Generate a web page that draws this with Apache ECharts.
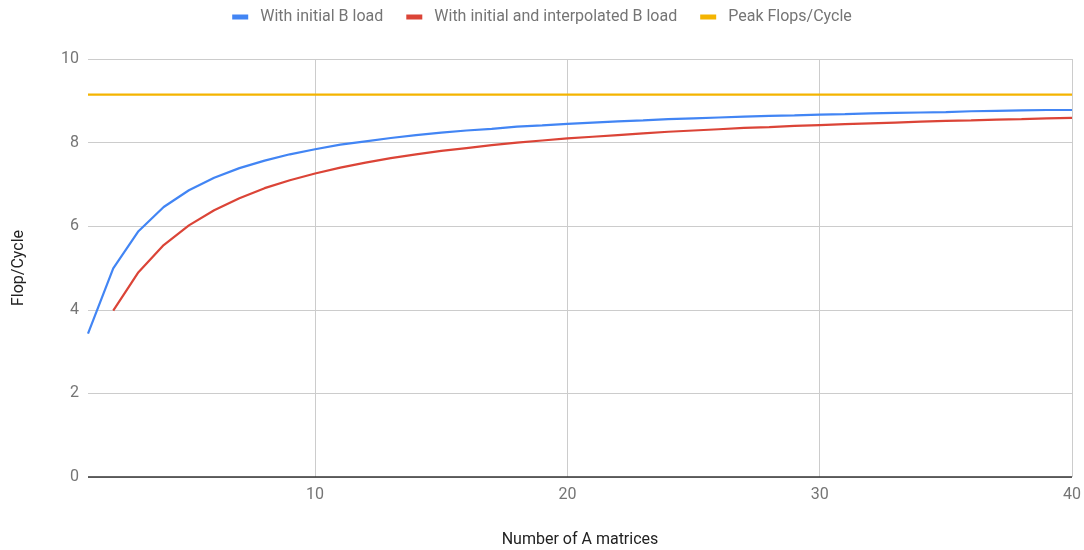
<!DOCTYPE html>
<html>
<head>
<meta charset="utf-8">
<script src="https://cdn.jsdelivr.net/npm/echarts@6/dist/echarts.min.js"></script>
<style>html,body{margin:0;padding:0;background:#fff}#c{width:1084px;height:550px}</style>
</head>
<body>
<div id="c"></div>
<script>
const seriesNames = ['With initial B load', 'With initial and interpolated B load', 'Peak Flops/Cycle'];
const xTicks = [10, 20, 30, 40];
const yTicks = [0, 2, 4, 6, 8, 10];
// x = number of A matrices (1..40)
const blueX = [1,2,3,4,5,6,7,8,9,10,11,12,13,14,15,16,17,18,19,20,21,22,23,24,25,26,27,28,29,30,31,32,33,34,35,36,37,38,39,40];
const blueY = [3.43,4.99,5.88,6.46,6.86,7.16,7.39,7.57,7.72,7.84,7.95,8.03,8.11,8.18,8.24,8.29,8.33,8.38,8.41,8.45,8.48,8.51,8.53,8.56,8.58,8.60,8.62,8.64,8.65,8.67,8.68,8.70,8.71,8.72,8.73,8.75,8.76,8.77,8.78,8.78];
const redX = [2,3,4,5,6,7,8,9,10,11,12,13,14,15,16,17,18,19,20,21,22,23,24,25,26,27,28,29,30,31,32,33,34,35,36,37,38,39,40];
const redY = [3.98,4.90,5.55,6.02,6.38,6.67,6.91,7.10,7.26,7.40,7.52,7.63,7.72,7.80,7.87,7.94,8.00,8.05,8.10,8.14,8.18,8.22,8.26,8.29,8.32,8.35,8.37,8.40,8.42,8.44,8.46,8.48,8.50,8.52,8.53,8.55,8.56,8.58,8.59];
const peakX = [1, 40];
const peakY = [9.15, 9.15];

const zip = (xs, ys) => xs.map((x, i) => [x, ys[i]]);
const font = 'Roboto';
const chart = echarts.init(document.getElementById('c'), null, {renderer: 'canvas'});
chart.setOption({
  animation: false,
  backgroundColor: '#fff',
  color: ['#4285F4', '#DB4437', '#F4B400'],
  textStyle: {fontFamily: font},
  legend: {
    top: 4, left: 'center',
    itemWidth: 16, itemHeight: 5, itemGap: 23,
    icon: 'rect',
    textStyle: {fontFamily: font, fontSize: 16, color: '#757575', padding: [0, 0, 0, 7]},
    data: seriesNames
  },
  grid: {left: 88, right: 12, top: 59, bottom: 73, containLabel: false, outerBoundsMode: 'none'},
  xAxis: {
    type: 'value', min: 1, max: 40,
    name: 'Number of A matrices', nameLocation: 'middle', nameGap: 55,
    nameTextStyle: {fontFamily: font, fontSize: 16, color: '#222'},
    axisLine: {show: false},
    axisTick: {show: false, customValues: xTicks},
    axisLabel: {customValues: xTicks, fontFamily: font, fontSize: 16, color: '#757575', margin: 10},
    splitLine: {show: true, lineStyle: {color: '#cccccc', width: 1}}
  },
  yAxis: {
    type: 'value', min: 0, max: 10, interval: 2,
    name: 'Flop/Cycle', nameLocation: 'middle', nameGap: 61, nameRotate: 90,
    nameTextStyle: {fontFamily: font, fontSize: 16, color: '#222'},
    axisLine: {show: false},
    axisTick: {show: false},
    axisLabel: {fontFamily: font, fontSize: 16, color: '#757575', margin: 9},
    splitLine: {show: true, lineStyle: {color: '#cccccc', width: 1}}
  },
  series: [
    {name: seriesNames[0], type: 'line', data: zip(blueX, blueY), showSymbol: false, lineStyle: {width: 2.2}, z: 3},
    {name: seriesNames[1], type: 'line', data: zip(redX, redY), showSymbol: false, lineStyle: {width: 2.2}, z: 3},
    {name: seriesNames[2], type: 'line', data: zip(peakX, peakY), showSymbol: false, lineStyle: {width: 2.2}, z: 3,
     markLine: {silent: true, symbol: 'none', label: {show: false},
       lineStyle: {color: '#333', width: 1.5, type: 'solid'},
       data: [{yAxis: 0}]}}
  ]
});
</script>
</body>
</html>
